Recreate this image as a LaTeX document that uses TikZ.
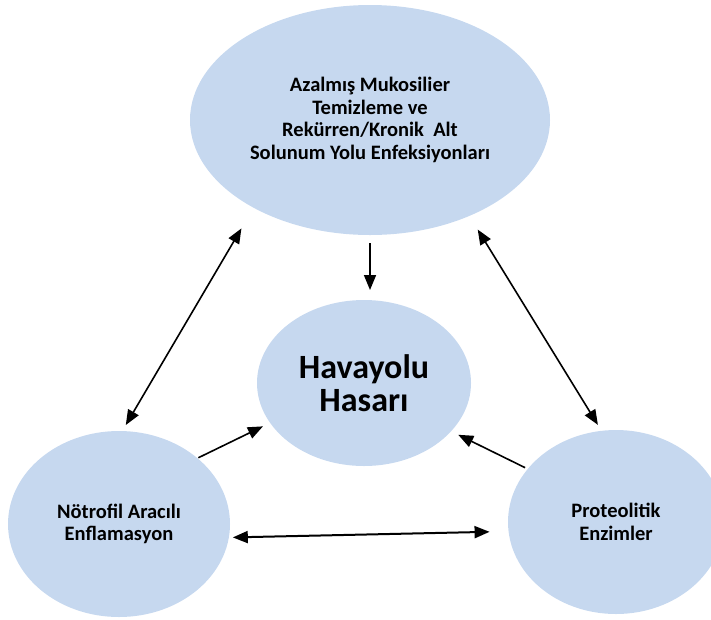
\documentclass[tikz,border=0pt]{standalone}
\usepackage{fontspec}
\setmainfont{Carlito}
\usetikzlibrary{arrows.meta,shapes.geometric}
\definecolor{balon}{RGB}{198,216,239}
\tikzset{> = {Triangle[length=15pt,width=12pt]}, color=black}
\tikzset{balon/.style={ellipse,fill=balon,inner sep=0pt,outer sep=0pt,align=center}}
\tikzset{yazi/.style={font=\bfseries\fontsize{20.5}{22.5}\selectfont}}

\begin{document}
\begin{tikzpicture}[x=1pt,y=-1pt,line width=1.6pt]
	\useasboundingbox (0,0) rectangle (711,619);
	\clip (0,0) rectangle (711,619);
	% baloncuklar
	\node[balon,yazi,minimum width=360pt,minimum height=230pt] (ust) at (370,120) {Azalmış Mukosilier\\Temizleme ve\\Rekürren/Kronik\ \ Alt\\Solunum Yolu Enfeksiyonları};
	\node[balon,minimum width=214pt,minimum height=166pt,font=\bfseries\fontsize{34}{33}\selectfont] (hasar) at (364,383) {Havayolu\\Hasarı};
	\node[balon,yazi,minimum width=222pt,minimum height=186pt] (sol) at (119,524) {Nötrofil Aracılı\\Enflamasyon};
	\node[balon,yazi,minimum width=216pt,minimum height=184pt] (sag) at (616,522) {Proteolitik\\Enzimler};
	% oklar
	\draw[->,shorten <=8pt,shorten >=10pt] (ust.south) -- (ust.south |- hasar.north);
	\draw[<->,shorten <=7pt,shorten >=24pt] (sol.88) -- (ust.217);
	\draw[<->,shorten <=16pt,shorten >=7pt] (ust.316) -- (sag.99);
	\draw[->,shorten <=1pt,shorten >=8pt] (sol.40) -- (hasar.203);
	\draw[->,shorten <=3pt,shorten >=8pt] (sag.149) -- (hasar.331);
	\draw[<->,line width=2pt,shorten <=4pt,shorten >=19pt] (sol.353) -- (sag.185);
\end{tikzpicture}
\end{document}
